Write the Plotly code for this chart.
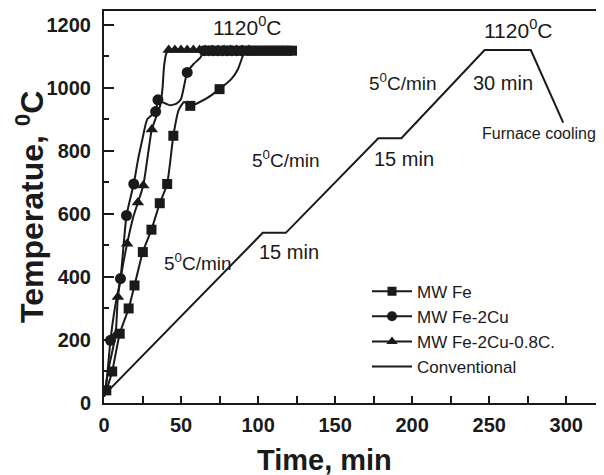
import plotly.graph_objects as go

# ---------------- data ----------------
fe_t = [0, 1.5, 5.3, 10.2, 16, 19.8, 25.2, 30.8, 36.2, 41, 45, 48.5, 52, 56, 66, 75, 83, 87, 90, 92, 122]
fe_T = [20, 40, 100, 220, 300, 373, 479, 550, 634, 695, 848, 930, 955, 943, 965, 996, 1030, 1060, 1100, 1118, 1118]
fe_mk_t = [1.5, 5.3, 10.2, 16, 19.8, 25.2, 30.8, 36.2, 41, 45, 56, 75,
           92, 95, 98, 101, 104, 107, 110, 113, 116, 119, 122]
fe_mk_T = [40, 100, 220, 300, 373, 479, 550, 634, 695, 848, 943, 996,
           1118, 1118, 1118, 1118, 1118, 1118, 1118, 1118, 1118, 1118, 1118]

cu_t = [0, 1.5, 4.2, 7, 10.7, 14.6, 19.3, 22, 24.7, 28, 33.5, 35, 38, 43, 47, 50, 54, 58, 62.5, 65, 122]
cu_T = [20, 60, 199, 300, 395, 595, 695, 770, 832, 900, 925, 962, 955, 945, 950, 965, 1049, 1075, 1096, 1118, 1118]
cu_mk_t = [4.2, 10.7, 14.6, 19.3, 33.5, 35, 54,
           65, 68, 71, 74, 77, 80, 83, 86, 89]
cu_mk_T = [199, 395, 595, 695, 925, 962, 1049,
           1118, 1118, 1118, 1118, 1118, 1118, 1118, 1118, 1118]

cc_t = [0, 3, 7.5, 9, 12, 15, 19, 22, 25.5, 28, 31, 34, 36.5, 38, 39, 40.5, 42, 122]
cc_T = [20, 110, 215, 336, 430, 505, 590, 636, 690, 770, 868, 910, 945, 1000, 1070, 1110, 1118, 1118]
cc_mk_t = [7.5, 9, 15, 22, 25.5, 31,
           42, 46, 50, 54, 58, 62, 66, 70, 74, 78, 82, 86, 90, 94]
cc_mk_T = [215, 336, 505, 636, 690, 868,
           1120, 1120, 1120, 1120, 1120, 1120, 1120, 1120, 1120, 1120, 1120, 1120, 1120, 1120]

conv_t = [0, 103, 118, 178, 193, 247, 277, 298]
conv_T = [25, 540, 540, 840, 840, 1120, 1120, 890]

x_ticks = [0, 50, 100, 150, 200, 250, 300]
y_ticks = [0, 200, 400, 600, 800, 1000, 1200]

names = ["MW Fe", "MW Fe-2Cu", "MW Fe-2Cu-0.8C.", "Conventional"]

# ---------------- figure ----------------
INK = "#1a1a1a"
FONT = "Liberation Sans, Arial, sans-serif"

fig = go.Figure()

series = [
    (fe_t, fe_T, fe_mk_t, fe_mk_T, "square", 10, names[0]),
    (cu_t, cu_T, cu_mk_t, cu_mk_T, "circle", 11, names[1]),
    (cc_t, cc_T, cc_mk_t, cc_mk_T, "triangle-up", 11, names[2]),
]

for t, T, mt, mT, sym, sz, nm in series:
    fig.add_trace(go.Scatter(x=t, y=T, mode="lines", showlegend=False,
                             line=dict(color=INK, width=2, shape="spline", smoothing=0.5),
                             hoverinfo="skip"))
    fig.add_trace(go.Scatter(x=mt, y=mT, mode="markers", showlegend=False,
                             marker=dict(symbol=sym, size=sz, color=INK)))

fig.add_trace(go.Scatter(x=conv_t, y=conv_T, mode="lines", showlegend=False,
                         line=dict(color=INK, width=2)))

# legend entries
for _, _, _, _, sym, sz, nm in series:
    fig.add_trace(go.Scatter(x=[None], y=[None], mode="lines+markers", name=nm,
                             line=dict(color=INK, width=2),
                             marker=dict(symbol=sym, size=sz - 1, color=INK)))
fig.add_trace(go.Scatter(x=[None], y=[None], mode="lines", name=names[3],
                         line=dict(color=INK, width=2)))

annots = [
    (93, 1196, "1120<sup>0</sup>C", 21),
    (269, 1187, "1120<sup>0</sup>C", 21),
    (61, 446, "5<sup>0</sup>C/min", 19),
    (118, 775, "5<sup>0</sup>C/min", 19),
    (194, 1019, "5<sup>0</sup>C/min", 19),
    (120, 478, "15 min", 20),
    (195, 775, "15 min", 20),
    (259, 1016, "30 min", 20),
    (282, 854, "Furnace cooling", 16),
]
for x, y, txt, fs in annots:
    fig.add_annotation(x=x, y=y, text=txt, showarrow=False,
                       font=dict(family=FONT, size=fs, color=INK))

# axis titles
fig.add_annotation(xref="paper", yref="paper", x=0.44, y=-0.145, text="Time, min",
                   xanchor="center", yanchor="middle",
                   showarrow=False, font=dict(family=FONT, size=29, color=INK, weight="bold"))
fig.add_annotation(xref="paper", yref="paper", x=-0.148, y=0.5, text="Temperatue, <sup>0</sup>C",
                   xanchor="center", yanchor="middle",
                   textangle=-90, showarrow=False,
                   font=dict(family=FONT, size=32, color=INK, weight="bold"))

axis_common = dict(showline=True, linecolor=INK, linewidth=2, mirror=True, automargin=False,
                   ticks="inside", tickcolor=INK, tickwidth=2, showgrid=False, zeroline=False,
                   tickfont=dict(family=FONT, size=20, color=INK, weight="bold"))

fig.update_xaxes(range=[0, 324.5], tickvals=x_ticks, ticklen=7,
                 minor=dict(dtick=25, tick0=0, ticks="inside", ticklen=7, tickcolor=INK, tickwidth=2),
                 ticklabelstandoff=3, **axis_common)
fig.update_yaxes(range=[0, 1244], tickvals=y_ticks, ticklen=10,
                 minor=dict(dtick=100, tick0=0, ticks="inside", ticklen=5, tickcolor=INK, tickwidth=2),
                 ticklabelstandoff=7, **axis_common)

# page body has an 8px default margin; shift the figure margins to compensate
fig.update_layout(
    width=604, height=475,
    margin=dict(l=96, r=8, t=3, b=80, autoexpand=False),
    plot_bgcolor="white", paper_bgcolor="white",
    font=dict(family=FONT, color=INK),
    legend=dict(x=0.526, y=0.33, xanchor="left", yanchor="top",
                font=dict(family=FONT, size=17, color=INK),
                bgcolor="rgba(0,0,0,0)", tracegroupgap=0, itemwidth=40),
)

fig.write_html("out.html")
